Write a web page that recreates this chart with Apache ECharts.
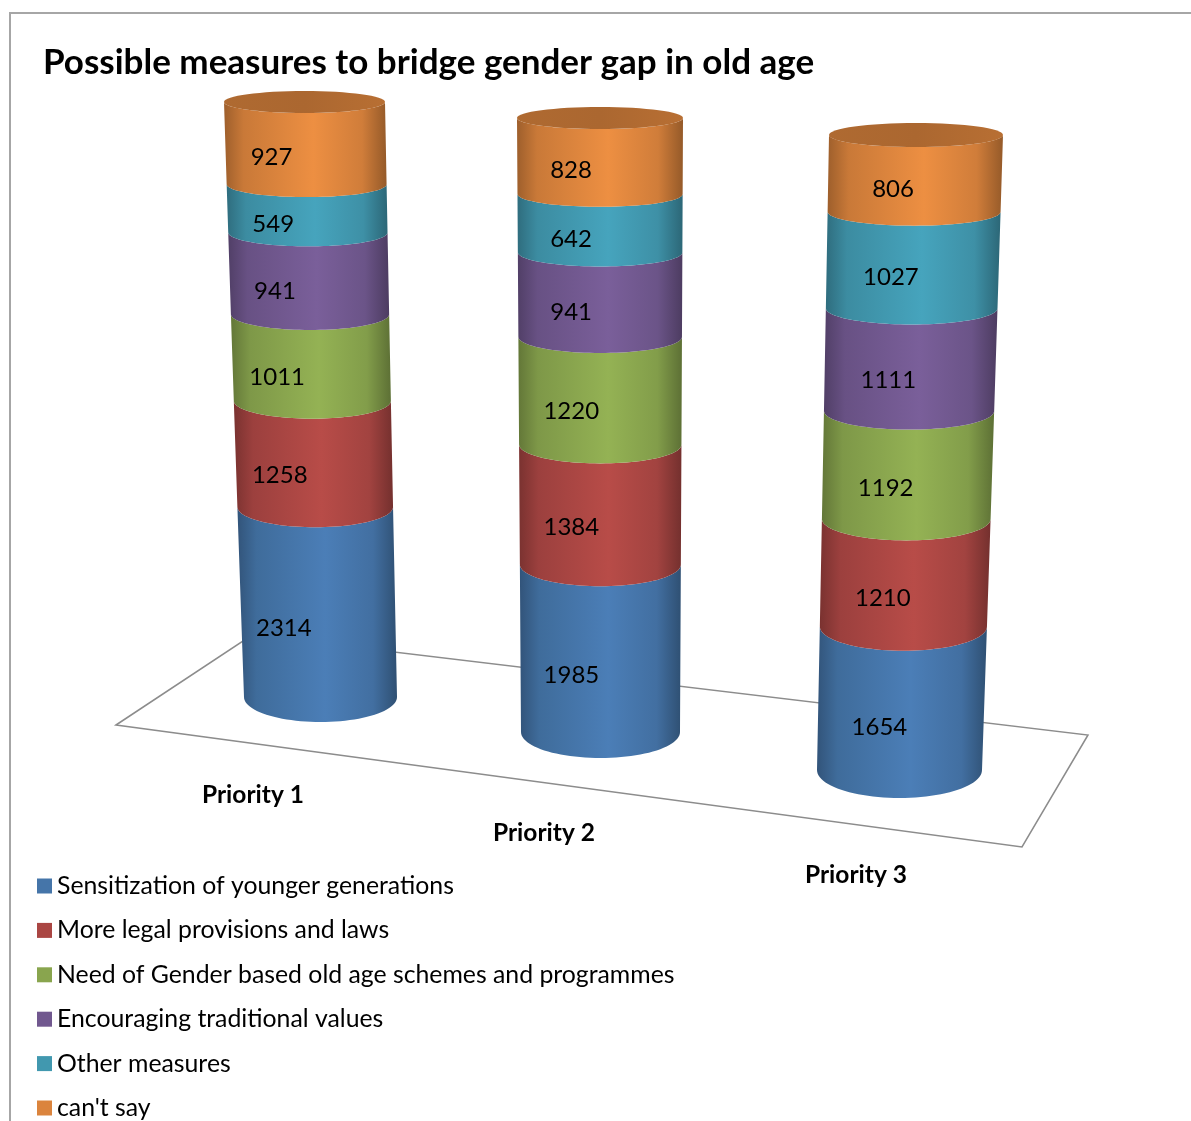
<!DOCTYPE html>
<html>
<head>
<meta charset="utf-8">
<title>Possible measures to bridge gender gap in old age</title>
<script src="https://cdn.jsdelivr.net/npm/echarts@6/dist/echarts.min.js"></script>
<style>
  html, body { margin: 0; padding: 0; background: #fff; }
  #chart { width: 1191px; height: 1121px; }
</style>
</head>
<body>
<div id="chart"></div>
<script>
const categories = ["Priority 1", "Priority 2", "Priority 3"]
const seriesNames = [
  "Sensitization of younger generations",
  "More legal provisions and laws",
  "Need of Gender based old age schemes and programmes",
  "Encouraging traditional values",
  "Other measures",
  "can't say",
]
const sensitization = [2314, 1985, 1654]
const legalProvisions = [1258, 1384, 1210]
const genderSchemes = [1011, 1220, 1192]
const traditionalValues = [941, 941, 1111]
const otherMeasures = [549, 642, 1027]
const cantSay = [927, 828, 806]
const seriesValues = [sensitization, legalProvisions, genderSchemes, traditionalValues, otherMeasures, cantSay]
const colors = ["#4575a9", "#aa4643", "#89a54e", "#71588f", "#4198af", "#db843d"]

// perspective of each cylinder (the chart is a fake 3D one, so every column has its own axis)
const cylinders = [
  { labelX: 253, yTop: 102, yBottom: 697, margin: 86, cxBottom: 320.5, cxTop: 304.5, wBottom: 153, wTop: 161, ryBottom: 25, ryTop: 11, textDx: -34, depth: 0.05 },
  { labelX: 544, yTop: 118, yBottom: 732, margin: 89, cxBottom: 600.5, cxTop: 600, wBottom: 159, wTop: 166, ryBottom: 26, ryTop: 11, textDx: -29, depth: 0.053 },
  { labelX: 856, yTop: 135, yBottom: 770, margin: 93, cxBottom: 899.5, cxTop: 916, wBottom: 165, wTop: 174, ryBottom: 28, ryTop: 12, textDx: -22, depth: 0.057 },
]
const maxValue = 7000
const fontName = "Lato, 'Open Sans', sans-serif"

function shade(hex, k) {
  const n = parseInt(hex.slice(1), 16)
  const c = [n >> 16, (n >> 8) & 255, n & 255].map((v) => Math.min(255, Math.round(v * k)))
  return `rgb(${c[0]},${c[1]},${c[2]})`
}

function sideGradient(hex) {
  return new echarts.graphic.LinearGradient(0, 0, 1, 0, [
    { offset: 0, color: shade(hex, 0.72) },
    { offset: 0.12, color: shade(hex, 0.92) },
    { offset: 0.55, color: shade(hex, 1.08) },
    { offset: 0.85, color: shade(hex, 0.95) },
    { offset: 1, color: shade(hex, 0.68) },
  ])
}

// x centre, half width and ellipse height at some value on the cylinder
function ring(cyl, value) {
  const t = value / maxValue
  return {
    cx: cyl.cxBottom + (cyl.cxTop - cyl.cxBottom) * t,
    rx: (cyl.wBottom + (cyl.wTop - cyl.wBottom) * t) / 2,
    ry: cyl.ryBottom + (cyl.ryTop - cyl.ryBottom) * t,
  }
}

// the middle of a column sits a little lower on screen because of the camera angle
function foreshorten(cyl, value) {
  return value - (cyl.depth * value * (maxValue - value)) / maxValue
}

function frontArc(r, y, reverse) {
  const pts = []
  for (let i = 0; i <= 48; i++) {
    const a = (Math.PI * i) / 48
    pts.push([r.cx - r.rx * Math.cos(a), y + r.ry * Math.sin(a)])
  }
  return reverse ? pts.reverse() : pts
}

function makeRenderItem(cylIndex, stackIndex) {
  const cyl = cylinders[cylIndex]
  const hex = colors[stackIndex]
  return function (params, api) {
    const start = api.value(1)
    const end = api.value(2)
    const y0 = api.coord([api.value(0), foreshorten(cyl, start)])[1]
    const y1 = api.coord([api.value(0), foreshorten(cyl, end)])[1]
    const r0 = ring(cyl, start)
    const r1 = ring(cyl, end)
    const children = [
      {
        type: "polygon",
        shape: { points: frontArc(r0, y0, false).concat(frontArc(r1, y1, true)) },
        style: { fill: sideGradient(hex) },
      },
    ]
    // only the last stack shows its lid
    if (stackIndex === seriesNames.length - 1) {
      children.push({
        type: "ellipse",
        shape: { cx: r1.cx, cy: y1, rx: r1.rx, ry: r1.ry },
        style: {
          fill: new echarts.graphic.LinearGradient(0, 0, 1, 0, [
            { offset: 0, color: shade(hex, 0.8) },
            { offset: 0.5, color: shade(hex, 0.78) },
            { offset: 1, color: shade(hex, 0.84) },
          ]),
        },
      })
    }
    const mid = (start + end) / 2
    const rm = ring(cyl, mid)
    children.push({
      type: "text",
      style: {
        text: String(api.value(3)),
        x: rm.cx + cyl.textDx,
        y: api.coord([api.value(0), foreshorten(cyl, mid)])[1] + rm.ry + 2.5,
        fill: "#000",
        font: "24px " + fontName,
        align: "center",
        verticalAlign: "middle",
      },
    })
    return { type: "group", children: children }
  }
}

const grids = cylinders.map((c) => ({
  left: c.labelX - 100,
  width: 200,
  top: c.yTop,
  height: c.yBottom - c.yTop,
}))
const xAxes = cylinders.map((c, i) => ({
  type: "category",
  gridIndex: i,
  data: [categories[i]],
  axisLine: { show: false },
  axisTick: { show: false },
  axisLabel: { margin: c.margin, color: "#000", fontFamily: fontName, fontSize: 24.5, fontWeight: "bold" },
}))
const yAxes = cylinders.map((c, i) => ({ type: "value", gridIndex: i, min: 0, max: maxValue, show: false }))

const series = []
cylinders.forEach((c, i) => {
  let sum = 0
  seriesNames.forEach((name, s) => {
    const v = seriesValues[s][i]
    series.push({
      name: name,
      type: "custom",
      xAxisIndex: i,
      yAxisIndex: i,
      itemStyle: { color: colors[s] },
      encode: { x: 0, y: [1, 2] },
      data: [[0, sum, sum + v, v]],
      renderItem: makeRenderItem(i, s),
      clip: false,
      silent: true,
    })
    sum += v
  })
})

const chart = echarts.init(document.getElementById("chart"), null, { renderer: "canvas" })
chart.setOption({
  animation: false,
  backgroundColor: "#fff",
  title: {
    text: "Possible measures to bridge gender gap in old age",
    left: 43,
    top: 45,
    padding: 0,
    textStyle: { color: "#000", fontFamily: fontName, fontSize: 35, fontWeight: "bold" },
  },
  legend: {
    data: seriesNames,
    orient: "vertical",
    left: 37,
    top: 873,
    height: 270,
    padding: 0,
    itemWidth: 15,
    itemHeight: 15,
    itemGap: 18.4,
    icon: "rect",
    selectedMode: false,
    textStyle: { color: "#000", fontFamily: fontName, fontSize: 24.8, lineHeight: 26 },
  },
  graphic: [
    // frame of the original picture
    { type: "polyline", shape: { points: [[10, 1121], [10, 13], [1191, 13]] }, style: { fill: "none", stroke: "#a6a6a6", lineWidth: 2 } },
    // floor
    { type: "polygon", shape: { points: [[116, 725], [252, 635], [1088, 735], [1022, 847]] }, style: { fill: "#fff", stroke: "#8c8c8c", lineWidth: 1.5 } },
  ],
  grid: grids,
  xAxis: xAxes,
  yAxis: yAxes,
  series: series,
})
</script>
</body>
</html>
